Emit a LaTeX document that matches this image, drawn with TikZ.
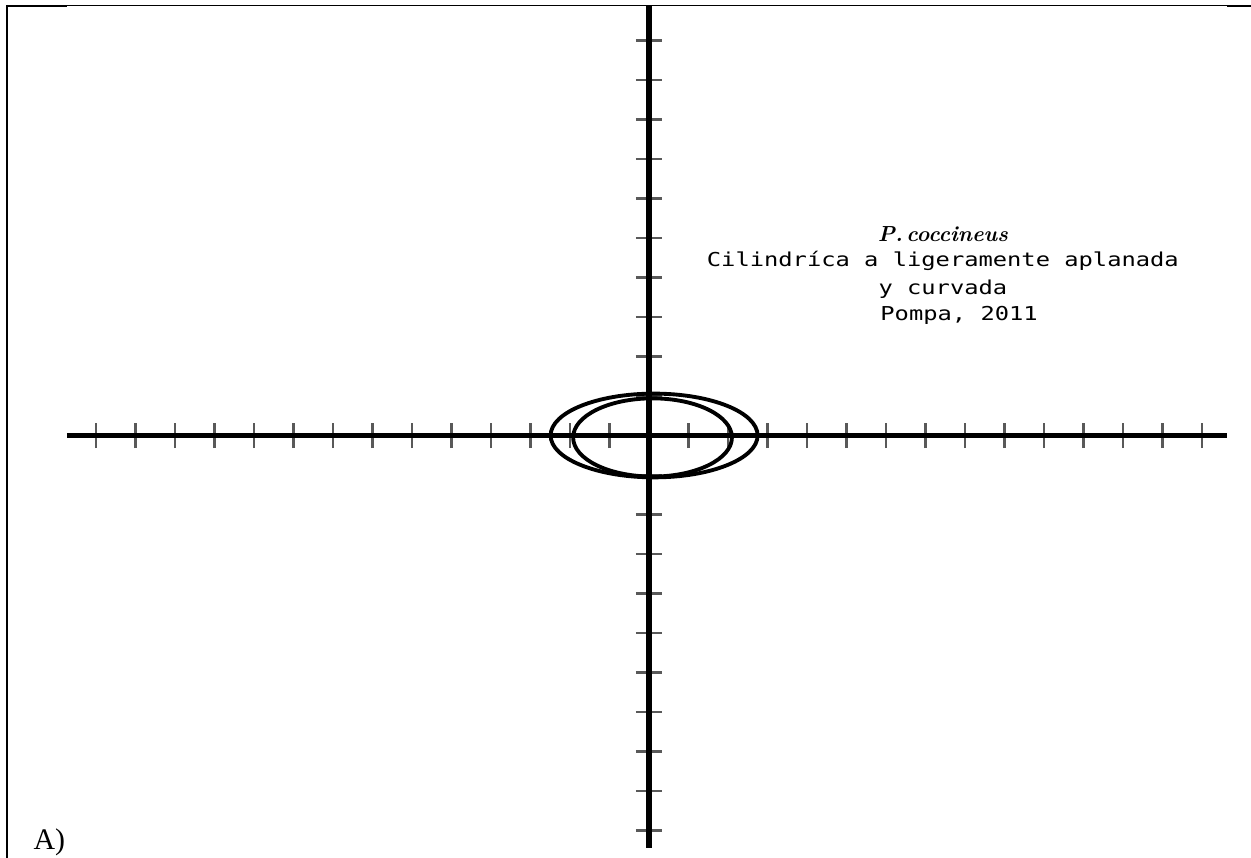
\documentclass[tikz,border=0pt]{standalone}
\usepackage{fontspec}
\usepackage{tikz}
\newfontfamily\monoF[FakeStretch=1.24]{DejaVu Sans Mono}
\newfontfamily\timesF{Liberation Serif}
\tikzset{
  axisS/.style  ={black, line width=3.3pt},
  tickS/.style  ={black!65, line width=1.4pt},
  ellS/.style   ={black, line width=2.2pt},
  frameS/.style ={black, line width=#1},
  monoT/.style  ={anchor=base, font=\monoF\fontsize{10.9}{13}\selectfont},
}
\begin{document}
\begin{tikzpicture}[x=0.79cm, y=0.79cm]
  \useasboundingbox (-16.430,-10.696) rectangle (15.241,11.025);
  % frame
  \draw[frameS=0.7pt] (-16.253,10.885) -- (15.241,10.885);
  \draw[frameS=1.3pt] (-16.253,10.873) -- (-14.734,10.873);
  \draw[frameS=1.3pt] (14.633,10.873) -- (15.241,10.873);
  \draw[frameS=1.3pt] (-16.253,10.90) -- (-16.253,-10.696);
  % ticks
  \foreach \k in {-14,...,-1,1,2,...,14} \draw[tickS] (\k,-0.32) -- (\k,0.32);
  \foreach \k in {-10,...,-1,1,2,...,10} \draw[tickS] (-0.33,\k) -- (0.33,\k);
  % axes
  \draw[axisS] (-14.734,0) -- (14.633,0);
  \draw[axisS] (0,10.873) -- (0,-10.443);
  % outlines
  \draw[ellS] (0.13,0) ellipse [x radius=2.62, y radius=1.06];
  \draw[ellS] (0.09,-0.05) ellipse [x radius=2.01, y radius=0.99];
  % labels
  \node[anchor=base, font=\bfseries\itshape\fontsize{12.4}{14}\selectfont] (sp) at (7.44,4.92) {P.\,coccineus};
  \node[monoT] (l1) at (7.44,4.27) {Cilindríca a ligeramente aplanada};
  \node[monoT] (l2) at (7.44,3.56) {y curvada};
  \node[monoT] (l3) at (7.85,2.92) {Pompa, 2011};
  \node[anchor=base west, inner sep=0pt, font=\timesF\fontsize{17}{20}\selectfont] (lab) at (-15.59,-10.49) {A)};
\end{tikzpicture}
\end{document}
